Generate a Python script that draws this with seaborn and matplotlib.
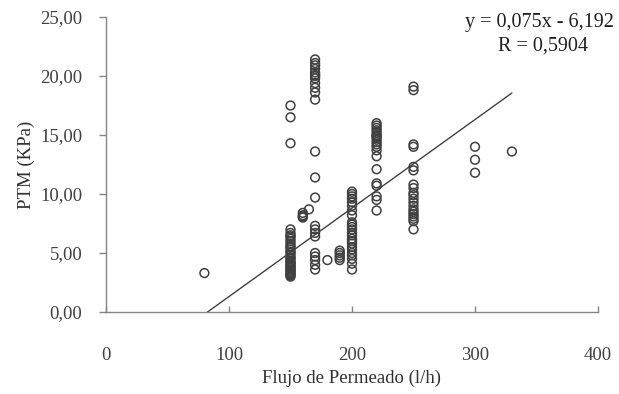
import numpy as np
import pandas as pd
import matplotlib
matplotlib.use('Agg')
import matplotlib.pyplot as plt
import seaborn as sns

# Flujo de permeado (l/h) and PTM (KPa), grouped by column
x80 = [80]
y80 = [3.3]
x150 = [150] * 32
y150 = [3.0, 3.1, 3.2, 3.3, 3.4, 3.5, 3.6, 3.7, 3.8, 3.9, 4.0, 4.1, 4.2, 4.3, 4.5,
        4.6, 4.8, 5.0, 5.1, 5.3, 5.5, 5.6, 5.8, 6.0, 6.2, 6.4, 6.5, 6.7, 7.0,
        14.3, 16.5, 17.5]
x160 = [160, 160, 160, 160, 165]
y160 = [8.0, 8.1, 8.2, 8.4, 8.7]
x170 = [170] * 24
y170 = [3.6, 4.0, 4.4, 4.7, 5.0, 6.4, 6.7, 7.0, 7.3, 9.7, 11.4, 13.6,
        18.0, 18.6, 19.0, 19.4, 19.8, 20.0, 20.3, 20.6, 20.9, 21.1, 21.4, 20.1]
x180 = [180]
y180 = [4.4]
x190 = [190] * 5
y190 = [4.4, 4.6, 4.8, 5.0, 5.2]
x200 = [200] * 24
y200 = [3.6, 4.1, 4.5, 4.8, 5.0, 5.3, 5.5, 5.8, 6.0, 6.2, 6.5, 6.7, 7.0, 7.2,
        7.4, 7.6, 8.6, 9.0, 9.3, 9.6, 9.8, 10.0, 10.2, 8.2]
x220 = [220] * 20
y220 = [8.6, 9.5, 9.8, 10.7, 10.9, 12.1, 13.2, 13.7, 14.0, 14.2, 14.4, 14.6,
        14.8, 15.0, 15.2, 15.4, 15.6, 15.8, 16.0, 14.9]
x250 = [250] * 20
y250 = [7.0, 7.7, 7.9, 8.1, 8.3, 8.5, 8.7, 9.0, 9.3, 9.6, 9.9, 10.1, 10.5, 10.8,
        12.0, 12.3, 14.0, 14.2, 18.8, 19.1]
x300 = [300, 300, 300]
y300 = [11.8, 12.9, 14.0]
x330 = [330]
y330 = [13.6]

# Excel linear trendline shown on the chart
slope = 0.075
intercept = -6.192
trend_x = [80, 330]
eq_text = 'y = 0,075x - 6,192'
r_text = 'R = 0,5904'

x_ticks = [0, 100, 200, 300, 400]
y_ticks = [0, 5, 10, 15, 20, 25]
y_labels = ['0,00', '5,00', '10,00', '15,00', '20,00', '25,00']

df = pd.DataFrame({
    'flujo': x80 + x150 + x160 + x170 + x180 + x190 + x200 + x220 + x250 + x300 + x330,
    'ptm': y80 + y150 + y160 + y170 + y180 + y190 + y200 + y220 + y250 + y300 + y330,
})
trend = pd.DataFrame({'x': trend_x,
                      'y': [slope * v + intercept for v in trend_x]})

sns.set_style('white')
plt.rcParams['font.family'] = ['Liberation Serif', 'DejaVu Serif']

fig = plt.figure(figsize=(6.19, 3.94), dpi=100)
ax = fig.add_axes([106 / 619, 1 - 312 / 394, 492 / 619, 295 / 394])

sns.scatterplot(data=df, x='flujo', y='ptm', ax=ax, marker='o', s=40,
                facecolor='none', edgecolor='#404040', linewidth=1.1)
sns.lineplot(data=trend, x='x', y='y', ax=ax, color='#404040', linewidth=1.0)

ax.set_xlim(0, 400)
ax.set_ylim(0, 25)
ax.set_xticks(x_ticks)
ax.set_xticklabels([str(v) for v in x_ticks])
ax.set_yticks(y_ticks)
ax.set_yticklabels(y_labels)

for side in ['top', 'right']:
    ax.spines[side].set_visible(False)
for side in ['left', 'bottom']:
    ax.spines[side].set_color('#868686')
    ax.spines[side].set_linewidth(1.0)
    ax.spines[side].set_clip_on(False)

ax.tick_params(axis='x', direction='in', length=4, width=1, color='#868686',
               pad=25, labelsize=13.5, labelcolor='#404040', bottom=True)
ax.tick_params(axis='y', direction='out', length=5, width=1, color='#868686',
               pad=12, labelsize=13.5, labelcolor='#404040', left=True)

ax.set_xlabel('Flujo de Permeado (l/h)', fontsize=13.5, color='#303030', labelpad=4)
ax.set_ylabel('PTM (KPa)', fontsize=13.5, color='#303030', labelpad=4)

fig.text(465 / 619, 1 - 22 / 394, eq_text, fontsize=14.5, color='#202020',
         ha='left', va='center')
fig.text(543 / 619, 1 - 46 / 394, r_text, fontsize=14.5, color='#202020',
         ha='center', va='center')

fig.savefig('out.png', dpi=100)
